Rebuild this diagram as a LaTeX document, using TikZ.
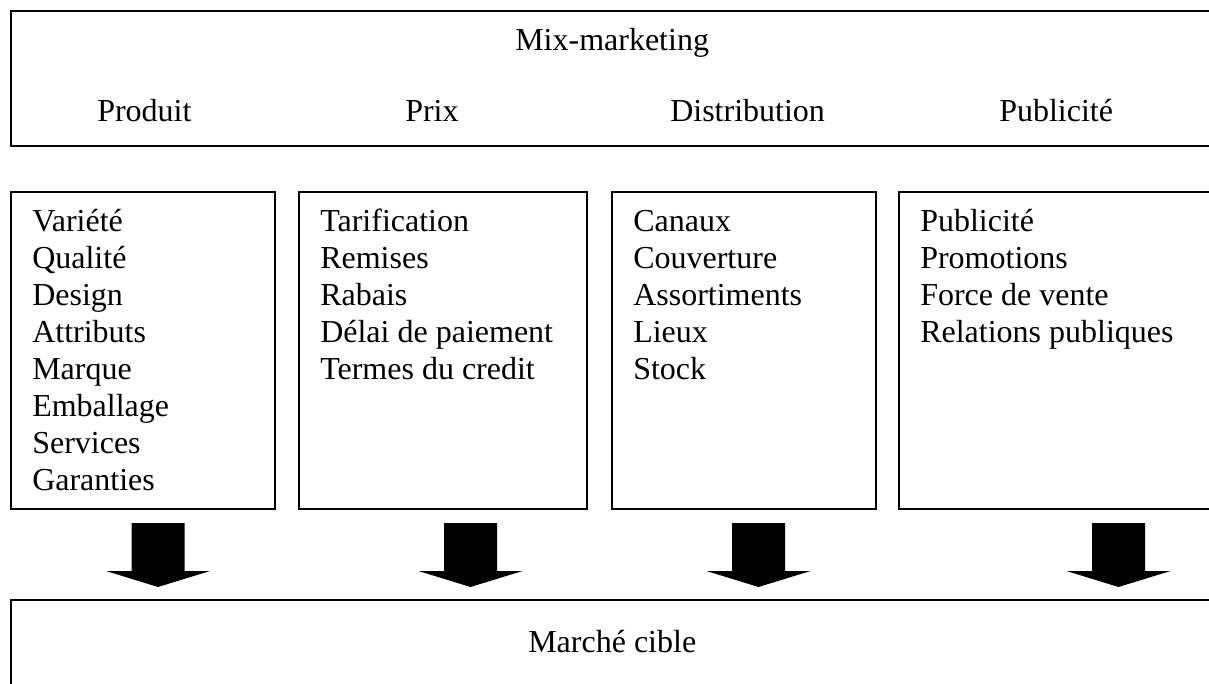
\documentclass[tikz,border=0pt]{standalone}
\usepackage{fontspec}
\setmainfont{Liberation Serif}
\usetikzlibrary{fit}
\tikzset{
  x=0.75pt, y=-0.75pt,
  box/.style={draw=black, line width=1.5pt, inner sep=0pt, fill=none},
  lbl/.style={anchor=base west, inner sep=0pt, font=\fontsize{24}{27.7}\selectfont},
  blockarrow/.pic={
    \fill[black] (-26.5,0) -- (26.5,0) -- (26.5,48) -- (52,48) -- (0,64) -- (-52,48) -- (-26.5,48) -- cycle;
  }
}
\begin{document}
\begin{tikzpicture}
\useasboundingbox (0,0) rectangle (1209,684);
\fill[white] (0,0) rectangle (1209,684);
\clip (0,0) rectangle (1209,684);

% top box
\node[box, fit={(11,11) (1240,146)}] (mix) {};
\node[lbl] (mixt) at (515,51) {Mix-marketing};
\node[lbl] (h1) at (97,122) {Produit};
\node[lbl] (h2) at (405,122) {Prix};
\node[lbl] (h3) at (670,122) {Distribution};
\node[lbl] (h4) at (999,122) {Publicité};

% column boxes
\node[box, fit={(11,192) (275,509)}] (b1) {};
\node[box, fit={(299,192) (587,509)}] (b2) {};
\node[box, fit={(612,192) (876,509)}] (b3) {};
\node[box, fit={(899,192) (1240,509)}] (b4) {};

\foreach \t [count=\i] in {Variété,Qualité,Design,Attributs,Marque,Emballage,Services,Garanties}
  \node[lbl] (pa\i) at (32,{232+36.9*(\i-1)}) {\t};
\foreach \t [count=\i] in {Tarification,Remises,Rabais,Délai de paiement,Termes du credit}
  \node[lbl] (pb\i) at (320,{232+36.9*(\i-1)}) {\t};
\foreach \t [count=\i] in {Canaux,Couverture,Assortiments,Lieux,Stock}
  \node[lbl] (pc\i) at (633,{232+36.9*(\i-1)}) {\t};
\foreach \t [count=\i] in {Publicité,Promotions,Force de vente,Relations publiques}
  \node[lbl] (pd\i) at (920,{232+36.9*(\i-1)}) {\t};

% bottom box
\node[box, fit={(11,600) (1240,720)}] (cible) {};
\node[lbl] (ciblet) at (528,652) {Marché cible};

% block arrows
\coordinate (a1) at (158,523);
\coordinate (a2) at (470.5,523);
\coordinate (a3) at (758.5,523);
\coordinate (a4) at (1118.5,523);
\foreach \a in {a1,a2,a3,a4}
  \pic at (\a) {blockarrow};
\end{tikzpicture}
\end{document}
